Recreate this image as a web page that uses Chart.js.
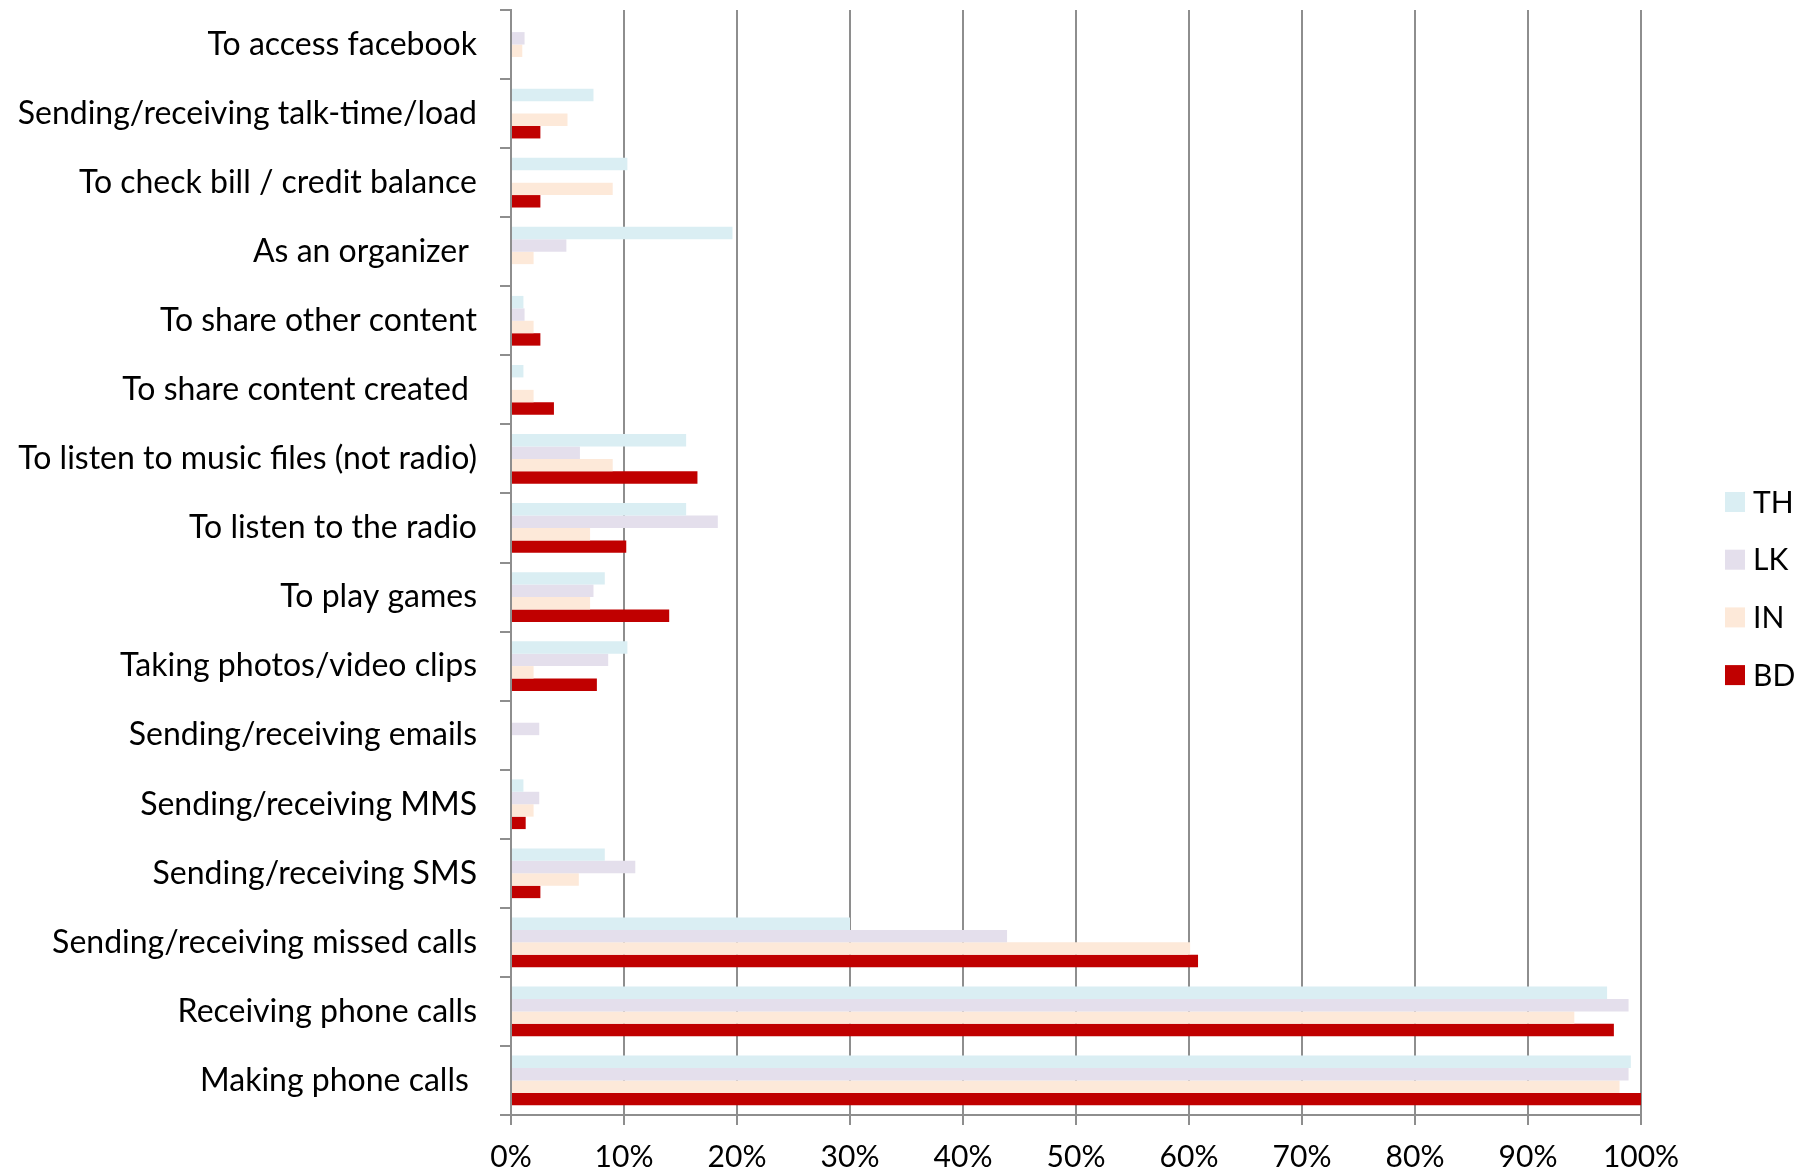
<!DOCTYPE html>
<html>
<head>
<meta charset="utf-8">
<script src="https://cdn.jsdelivr.net/npm/chart.js@4.4.1/dist/chart.umd.min.js"></script>
<style>
  html, body { margin: 0; padding: 0; background: #ffffff; }
  #wrap { width: 1811px; height: 1174px; position: relative; }
</style>
</head>
<body>
<div id="wrap"><canvas id="c" width="1811" height="1174"></canvas></div>
<script>
const categories = [
  "To access facebook",
  "Sending/receiving talk-time/load",
  "To check bill / credit balance",
  "As an organizer ",
  "To share other content",
  "To share content created ",
  "To listen to music files (not radio)",
  "To listen to the radio",
  "To play games",
  "Taking photos/video clips",
  "Sending/receiving emails",
  "Sending/receiving MMS",
  "Sending/receiving SMS",
  "Sending/receiving missed calls",
  "Receiving phone calls",
  "Making phone calls "
];
const seriesNames = ["TH", "LK", "IN", "BD"];
const TH = [0, 7.3, 10.3, 19.6, 1.1, 1.1, 15.5, 15.5, 8.3, 10.3, 0, 1.1, 8.3, 30.0, 97.0, 99.1];
const LK = [1.2, 0, 0, 4.9, 1.2, 0, 6.1, 18.3, 7.3, 8.6, 2.5, 2.5, 11.0, 43.9, 98.9, 98.9];
const IN = [1.0, 5.0, 9.0, 2.0, 2.0, 2.0, 9.0, 7.0, 7.0, 2.0, 0, 2.0, 6.0, 60.1, 94.1, 98.1];
const BD = [0, 2.6, 2.6, 0, 2.6, 3.8, 16.5, 10.2, 14.0, 7.6, 0, 1.3, 2.6, 60.8, 97.6, 100];
const xTicks = [0, 10, 20, 30, 40, 50, 60, 70, 80, 90, 100];
const colors = ["#DAEEF3", "#E4DFEC", "#FDE9D9", "#C00000"];

const FONT = "Lato, 'Open Sans', sans-serif";
const GRID = "#8e8e8e";

const legendPlugin = {
  id: 'sideLegend',
  afterDraw(chart) {
    const ctx = chart.ctx;
    const ds = chart.data.datasets;
    const x0 = 1725, box = 20, gap = 57.7, yStart = 492;
    ctx.save();
    ctx.font = "30px " + FONT;
    ctx.textBaseline = 'middle';
    ctx.textAlign = 'left';
    ds.forEach((d, i) => {
      const y = yStart + i * gap;
      ctx.fillStyle = d.backgroundColor;
      ctx.fillRect(x0, y, box, box);
      ctx.fillStyle = '#000';
      ctx.fillText(d.label, x0 + 28, y + box / 2 + 1);
    });
    ctx.restore();
  }
};

const data = {
  labels: categories,
  datasets: [TH, LK, IN, BD].map((arr, i) => ({
    label: seriesNames[i],
    data: arr,
    backgroundColor: colors[i],
    borderWidth: 0,
    categoryPercentage: 0.72,
    barPercentage: 1.0
  }))
};

new Chart(document.getElementById('c'), {
  type: 'bar',
  data: data,
  plugins: [legendPlugin],
  options: {
    indexAxis: 'y',
    responsive: false,
    animation: false,
    layout: { padding: { top: 10, right: 170, left: 0, bottom: 0 } },
    plugins: { legend: { display: false }, tooltip: { enabled: false } },
    scales: {
      x: {
        min: 0, max: 100,
        afterBuildTicks(scale) { scale.ticks = xTicks.map(v => ({ value: v })); },
        afterFit(scale) { scale.height = 59; },
        ticks: {
          callback: v => v + '%',
          color: '#000',
          font: { family: FONT, size: 30 },
          padding: 14,
          maxRotation: 0
        },
        grid: { color: GRID, lineWidth: 2, tickLength: 10, drawTicks: true },
        border: { color: GRID, width: 2 }
      },
      y: {
        afterFit(scale) { scale.width = 511; scale.paddingTop = 0; scale.paddingBottom = 0; },
        ticks: {
          color: '#000',
          font: { family: FONT, size: 32 },
          padding: 23,
          autoSkip: false
        },
        grid: { drawOnChartArea: false, color: GRID, lineWidth: 2, tickLength: 11, offset: true },
        border: { color: GRID, width: 2 }
      }
    }
  }
});
</script>
</body>
</html>
